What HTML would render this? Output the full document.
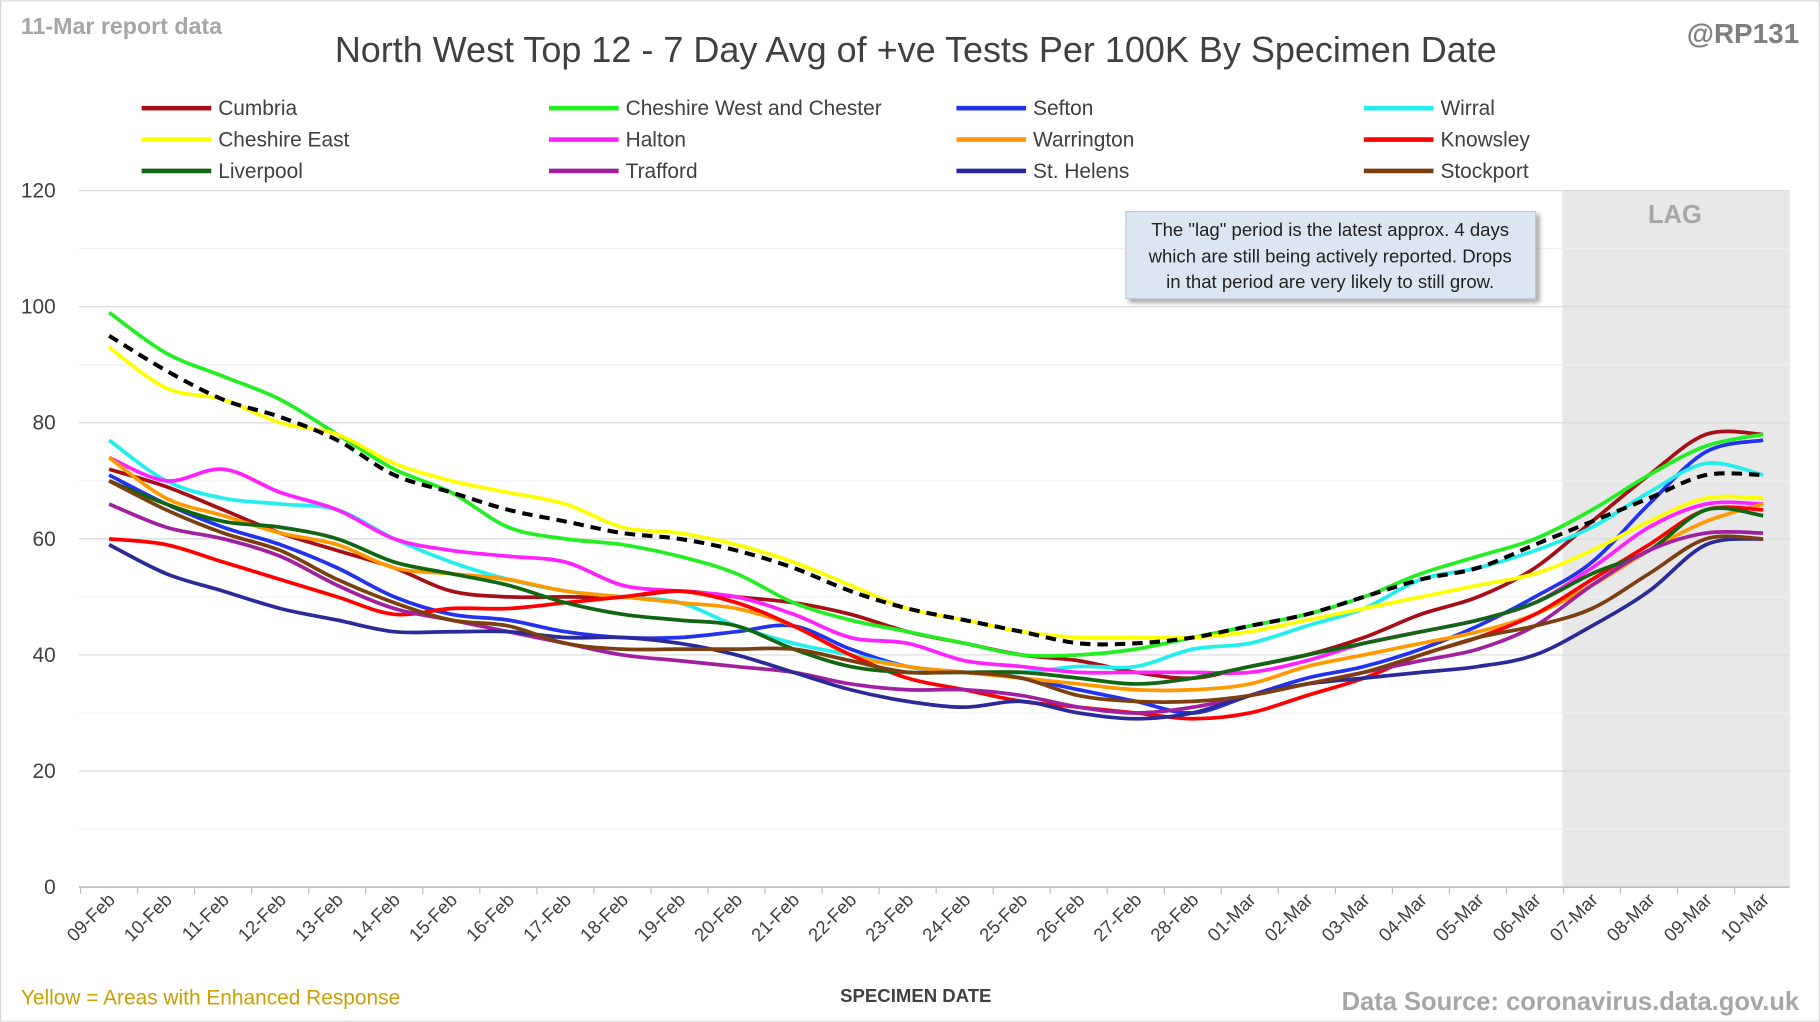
<!DOCTYPE html>
<html><head><meta charset="utf-8">
<style>
html,body{margin:0;padding:0;background:#fff;}
svg{display:block;font-family:"Liberation Sans","DejaVu Sans",sans-serif;}
</style></head>
<body>
<svg id="c" width="1820" height="1022" viewBox="0 0 1568 880" xmlns="http://www.w3.org/2000/svg">
<defs><filter id="sh" x="-10%" y="-10%" width="130%" height="140%"><feDropShadow dx="3" dy="3" stdDeviation="2" flood-color="#000" flood-opacity="0.35"/></filter></defs>
<rect x="0.5" y="0.5" width="1567" height="879" fill="#fff" stroke="#d9d9d9"/>
<rect x="1346" y="164" width="196" height="600" fill="#e8e8e8"/>
<g id="grid"></g>
<text x="18" y="29" font-size="20" font-weight="bold" fill="#a6a6a6">11-Mar report data</text>
<text x="789" y="53" font-size="31" fill="#404040" text-anchor="middle">North West Top 12 - 7 Day Avg of +ve Tests Per 100K By Specimen Date</text>
<text x="1550" y="37" font-size="24" font-weight="bold" fill="#7f7f7f" text-anchor="end">@RP131</text>
<text x="1443" y="192" font-size="22" font-weight="bold" fill="#a6a6a6" text-anchor="middle">LAG</text>
<g id="legend" font-size="18" fill="#404040"></g>
<g id="ylab" font-size="18" fill="#404040" text-anchor="end"></g>
<g id="xlab" font-size="16" fill="#404040" text-anchor="end"></g>
<g id="series"></g>
<rect x="970" y="182" width="353" height="75" fill="#dce6f2" stroke="#c0c8d8" filter="url(#sh)"/>
<g font-size="16" fill="#222" text-anchor="middle">
<text x="1146" y="203">The "lag" period is the latest approx. 4 days</text>
<text x="1146" y="226">which are still being actively reported.  Drops</text>
<text x="1146" y="248">in that period are very likely to still grow.</text>
</g>
<text x="789" y="863" font-size="16" font-weight="bold" fill="#404040" text-anchor="middle">SPECIMEN DATE</text>
<text x="18" y="865" font-size="18" fill="#c9a000">Yellow = Areas with Enhanced Response</text>
<text x="1550" y="870" font-size="22" font-weight="bold" fill="#a6a6a6" text-anchor="end">Data Source: coronavirus.data.gov.uk</text>
</svg>
<script>
var NS="http://www.w3.org/2000/svg";
function el(p,t,a,txt){var e=document.createElementNS(NS,t);for(var k in a)e.setAttribute(k,a[k]);if(txt!=null)e.textContent=txt;document.getElementById(p).appendChild(e);return e;}
var DX=(1519-94)/29;
var X=function(i){return 94+i*DX;},Y=function(v){return 764-v*5;};
for(var v=0;v<=120;v+=10){el("grid","line",{x1:68,x2:1542,y1:Y(v),y2:Y(v),stroke:v%20?"#f0f0f0":"#d9d9d9","stroke-width":1});
 if(v%20==0)el("ylab","text",{x:48,y:Y(v)+6},v);}
el("grid","line",{x1:68,x2:1542,y1:764,y2:764,stroke:"#bfbfbf","stroke-width":1.5});
var dates=[];for(var d=9;d<=28;d++)dates.push((d<10?"0":"")+d+"-Feb");for(var d=1;d<=10;d++)dates.push((d<10?"0":"")+d+"-Mar");
dates.forEach(function(s,i){var x=X(i)+6,y=776;el("xlab","text",{x:x,y:y,transform:"rotate(-45 "+x+" "+y+")"},s);
 el("grid","line",{x1:X(i)-DX/2,x2:X(i)-DX/2,y1:764,y2:770,stroke:"#bfbfbf"});});
var S=[
["Cumbria","#a50f15",[72,69,65,61,58,55,51,50,50,50,51,50,49,47,44,42,40,39,37,36,38,40,43,47,50,55,63,71,78,78]],
["Cheshire West and Chester","#22ee22",[99,92,88,84,78,72,68,62,60,59,57,54,49,46,44,42,40,40,41,43,45,47,50,54,57,60,65,71,76,78]],
["Sefton","#2233ee",[71,66,62,59,55,50,47,46,44,43,43,44,45,41,38,37,36,34,32,30,33,36,38,41,45,50,56,66,75,77]],
["Wirral","#22eeee",[77,70,67,66,65,60,56,53,51,50,49,45,42,40,38,37,37,38,38,41,42,45,48,53,55,58,62,68,73,71]],
["Cheshire East","#ffff00",[93,86,84,80,78,73,70,68,66,62,61,59,56,52,48,46,44,43,43,43,44,46,48,50,52,54,58,63,67,67]],
["Halton","#ff22ff",[74,70,72,68,65,60,58,57,56,52,51,50,47,43,42,39,38,37,37,37,37,39,42,44,46,49,55,62,66,66]],
["Warrington","#ff9900",[74,67,64,61,59,55,54,53,51,50,49,48,45,40,38,37,36,35,34,34,35,38,40,42,44,47,52,58,63,66]],
["Knowsley","#ff0000",[60,59,56,53,50,47,48,48,49,50,51,49,45,40,36,34,32,31,30,29,30,33,36,40,43,47,53,59,65,65]],
["Liverpool","#116611",[70,66,63,62,60,56,54,52,49,47,46,45,41,38,37,37,37,36,35,36,38,40,42,44,46,49,54,58,65,64]],
["Trafford","#a020a0",[66,62,60,57,52,48,46,44,42,40,39,38,37,35,34,34,33,31,30,31,33,35,37,39,41,45,52,58,61,61]],
["St. Helens","#2a2a99",[59,54,51,48,46,44,44,44,43,43,42,40,37,34,32,31,32,30,29,30,33,35,36,37,38,40,45,51,59,60]],
["Stockport","#7b3f10",[70,65,61,58,53,49,46,45,42,41,41,41,41,39,37,37,36,33,32,32,33,35,37,40,43,45,48,54,60,60]]];
var AVG=[95,89,84,81,77,71,68,65,63,61,60,58,55,51,48,46,44,42,42,43,45,47,50,53,55,59,63,67,71,71];
function path(vals){var p=vals.map(function(v,i){return [X(i),Y(v)];});var d="M"+p[0][0]+","+p[0][1];
 for(var i=0;i<p.length-1;i++){var p0=p[i-1]||p[i],p1=p[i],p2=p[i+1],p3=p[i+2]||p2;
 d+="C"+(p1[0]+(p2[0]-p0[0])/6)+","+(p1[1]+(p2[1]-p0[1])/6)+" "+(p2[0]-(p3[0]-p1[0])/6)+","+(p2[1]-(p3[1]-p1[1])/6)+" "+p2[0]+","+p2[1];}return d;}
var lx=[122,473,824,1175];
S.forEach(function(s,i){el("series","path",{d:path(s[2]),fill:"none",stroke:s[1],"stroke-width":3.2});
 var x=lx[i%4],y=93+Math.floor(i/4)*27;el("legend","line",{x1:x,x2:x+60,y1:y,y2:y,stroke:s[1],"stroke-width":4});
 el("legend","text",{x:x+66,y:y+6},s[0]);});
el("series","path",{d:path(AVG),fill:"none",stroke:"#000","stroke-width":3.5,"stroke-dasharray":"9,6"});
</script>
</body></html>
